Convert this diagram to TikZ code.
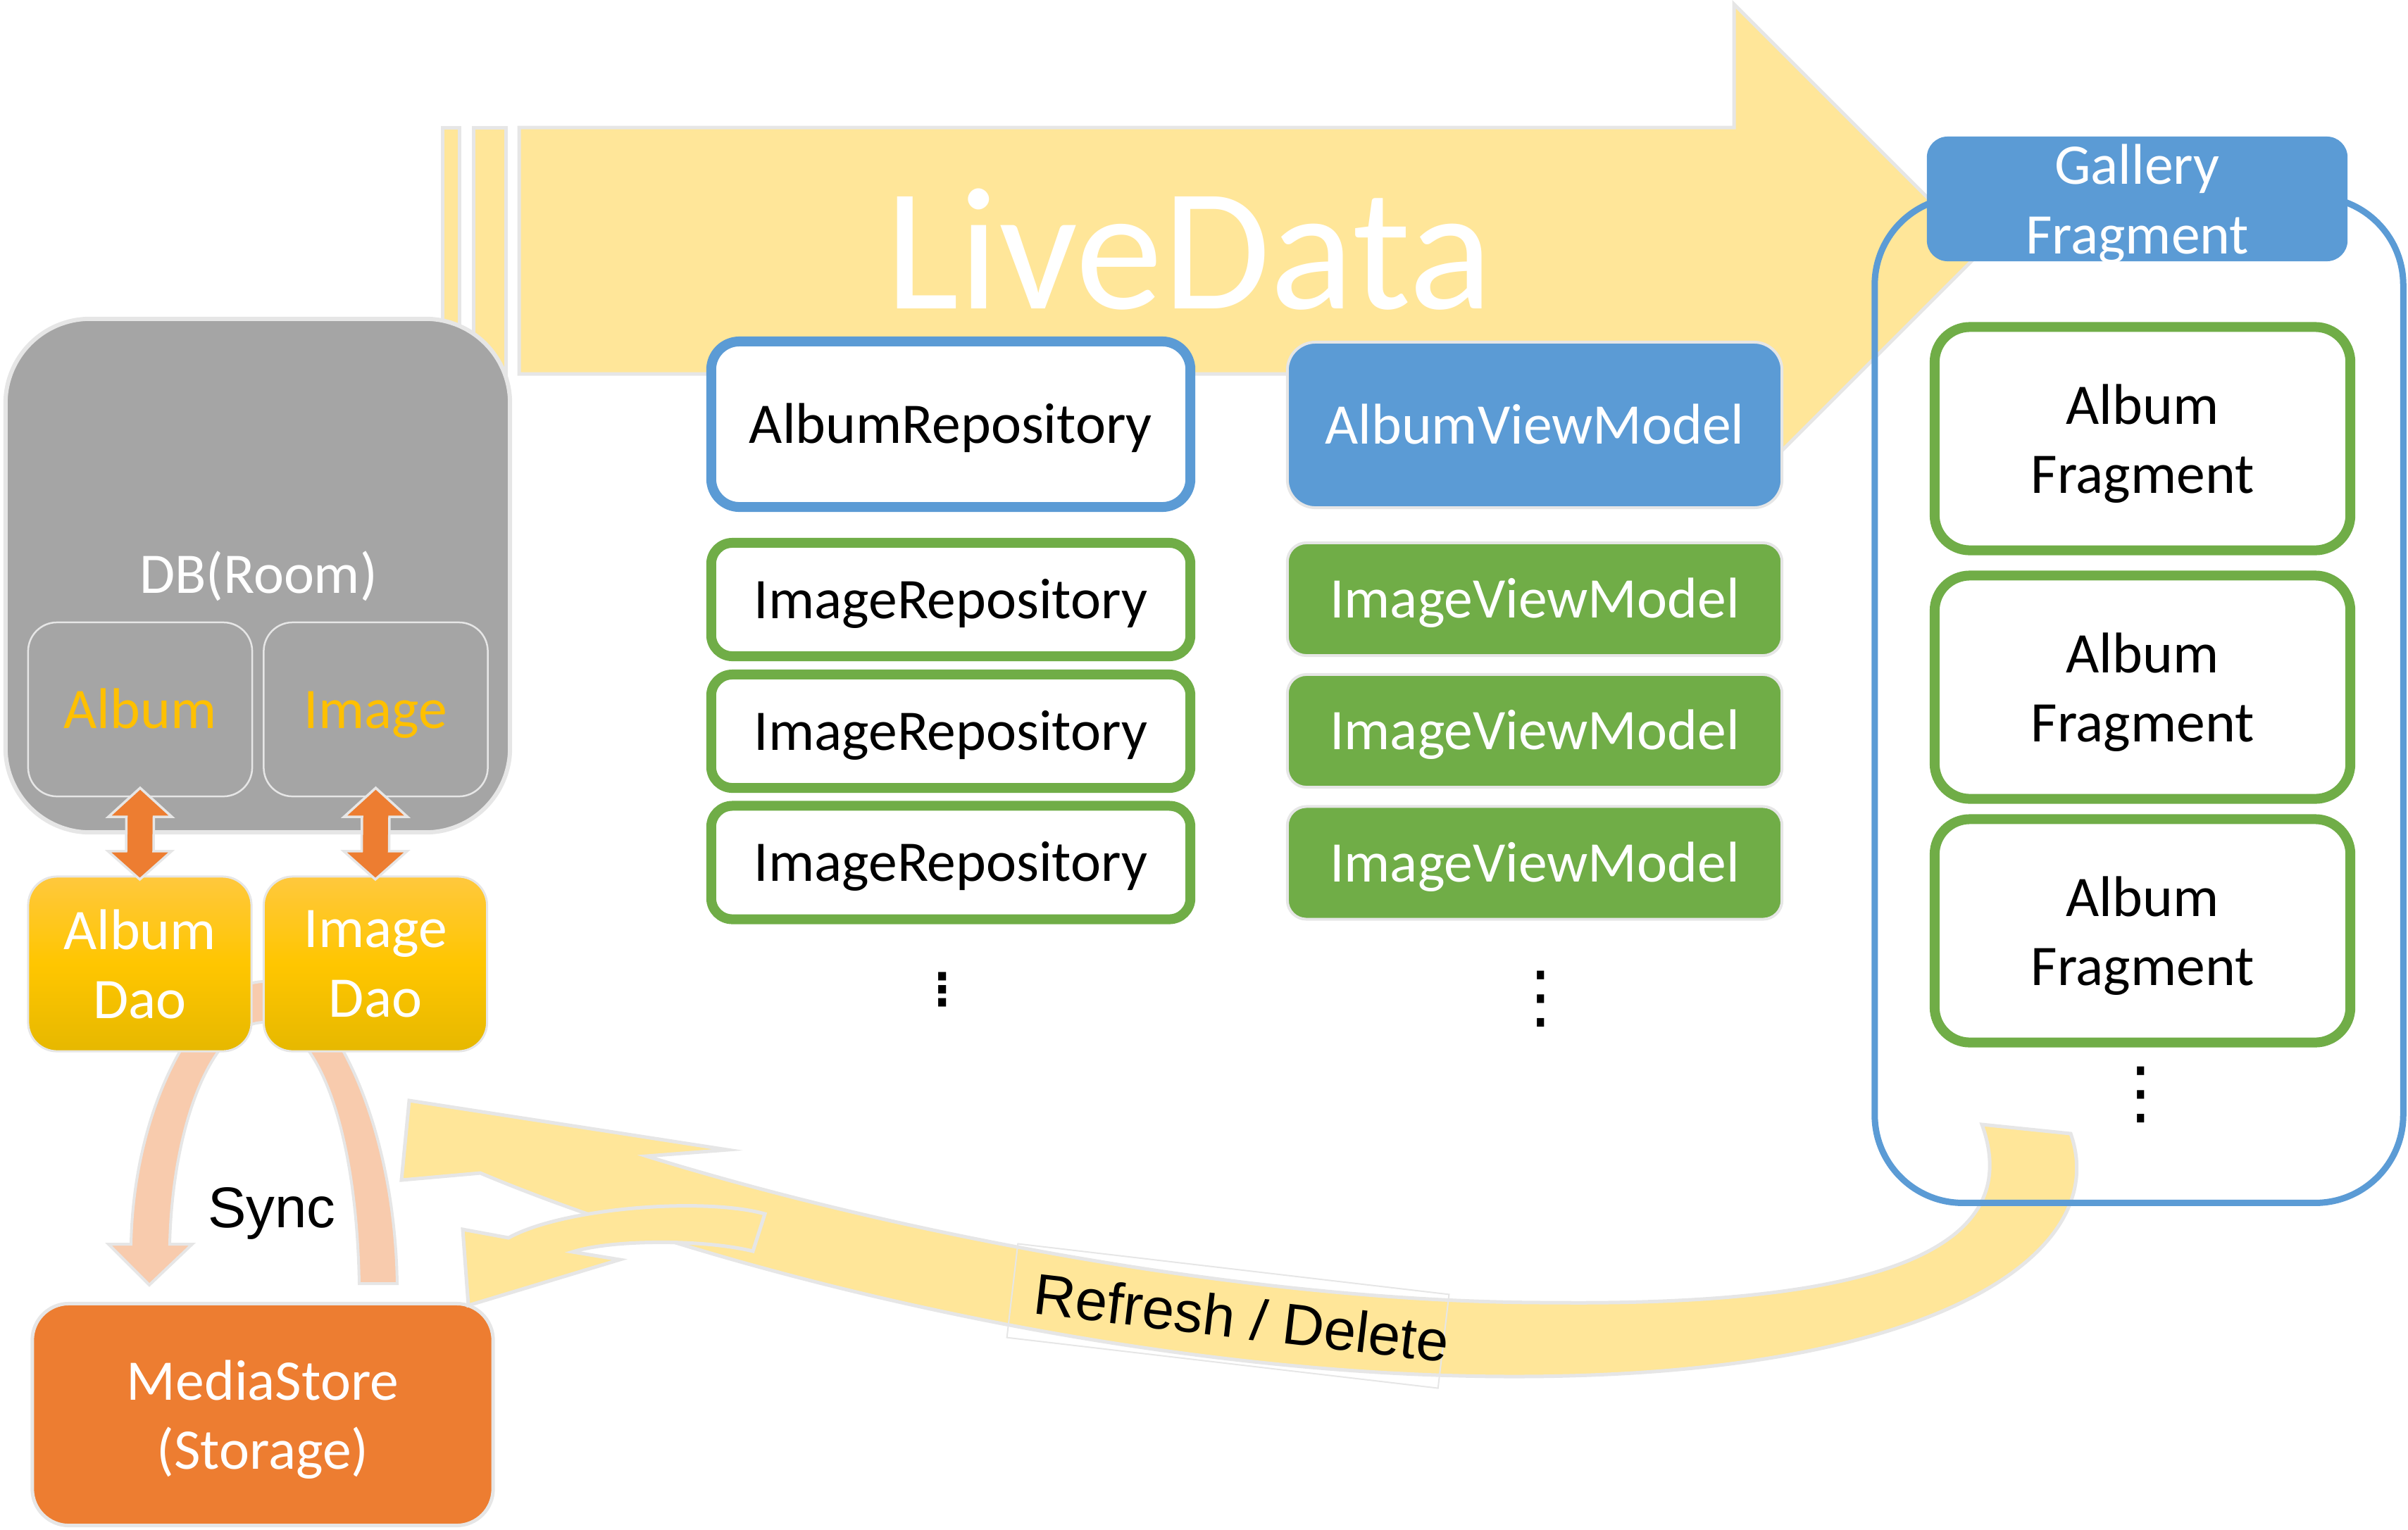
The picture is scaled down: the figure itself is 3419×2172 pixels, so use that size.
\documentclass[tikz,border=0pt]{standalone}
\usepackage{fontspec}
\setmainfont{Carlito}
\newfontfamily\arialfont{Liberation Sans}
\newfontfamily\symfont{DejaVu Sans}
\usetikzlibrary{calc}
\definecolor{lyellow}{HTML}{FFE699}
\definecolor{lgray}{HTML}{E6E6E6}
\definecolor{mblue}{HTML}{5B9BD5}
\definecolor{mgreen}{HTML}{70AD47}
\definecolor{morange}{HTML}{ED7D31}
\definecolor{mgray}{HTML}{A5A5A5}
\definecolor{mgold}{HTML}{FFC000}
\definecolor{mpeach}{HTML}{F8CBAD}
\definecolor{daotop}{HTML}{FFC83D}
\definecolor{daomid}{HTML}{FFC600}
\definecolor{daobot}{HTML}{E6B800}
\begin{document}
\begin{tikzpicture}[x=0.01cm,y=-0.01cm,
  every node/.style={font=\fontsize{23.2}{28}\selectfont, inner sep=0pt, outer sep=0pt},
  oneline/.style={text height=15.3pt, text depth=0pt},
  twoline/.style={align=center, text depth=0pt},
  lyarrow/.style={fill=lyellow, draw=lgray, line width=0.05cm},
  repo/.style={draw=#1, line width=0.14cm, fill=white, minimum width=6.8cm, oneline},
  vmbox/.style={fill=#1, draw=lgray, line width=0.04cm, minimum width=7.02cm, text=white, oneline},
  dbinner/.style={draw=lgray, line width=0.025cm, rounded corners=0.41cm, minimum width=3.18cm, minimum height=2.47cm, text=mgold, oneline},
  dao/.style={draw=lgray, line width=0.03cm, rounded corners=0.41cm, minimum width=3.17cm, minimum height=2.48cm, top color=daotop, bottom color=daobot, middle color=daomid, text=white, twoline},
  darrow/.style={fill=morange, draw=lgray, line width=0.035cm},
  frag/.style={draw=mgreen, line width=0.14cm, fill=white, rounded corners=0.5cm, minimum width=5.9cm, minimum height=3.17cm, twoline},
  dotsfont/.style={font=\symfont\fontsize{#1}{#1}\selectfont}
]
\useasboundingbox (0,0) rectangle (3419,2172);

% LiveData striped arrow
\draw[lyarrow] (628,181) rectangle (652,531);
\draw[lyarrow] (672,181) rectangle (718,531);
\draw[lyarrow] (737,181) -- (2462,181) -- (2462,6) -- (2813,357) -- (2462,708) -- (2462,531) -- (737,531) -- cycle;
\node[text=white, font=\fontsize{70.5}{80}\selectfont, anchor=base] (livedata) at (1688,438) {LiveData};

% Sync arch (behind Dao boxes)
\coordinate (synctip) at (212,1825);
\draw[fill=mpeach, draw=lgray, line width=0.04cm]
  (564,1823) .. controls (560,1580) and (460,1394) .. (375,1394)
  .. controls (290,1394) and (190,1560) .. (186,1767)
  -- (154,1767) -- (synctip) -- (273,1767) -- (241,1767)
  .. controls (245,1600) and (300,1452) .. (375,1452)
  .. controls (450,1452) and (506,1600) .. (510,1823) -- cycle;
\node[anchor=base, font=\arialfont\fontsize{23.2}{28}\selectfont] (sync) at (386,1743) {Sync};

% DB
\node[draw=lgray, line width=0.06cm, fill=mgray, rounded corners=1.2cm, minimum width=7.16cm, minimum height=7.29cm] (db) at (366,817.5) {};
\node[text=white, anchor=base] (dblabel) at (367,842) {DB(Room)};
\node[dbinner] (dbalbum) at (199,1007.5) {Album};
\node[dbinner] (dbimage) at (533.5,1007.5) {Image};

% Dao boxes
\node[dao] (albumdao) at (198.5,1369) {Album\\Dao};
\node[dao] (imagedao) at (533,1369) {Image\\Dao};

% double arrows
\coordinate (a1t) at ($(dbalbum.south)+(0,-12)$);
\coordinate (a1b) at ($(albumdao.north)+(0,4)$);
\coordinate (a2t) at ($(dbimage.south)+(0,-12)$);
\coordinate (a2b) at ($(imagedao.north)+(0,4)$);
\foreach \t/\b in {a1t/a1b,a2t/a2b}{
  \draw[darrow] (\t) -- ++(45,41) -- ++(-25.5,0) -- ($(\b)+(19.5,-40)$) -- ++(25.5,0) -- (\b)
    -- ++(-45,-40) -- ++(25.5,0) -- ($(\t)+(-19.5,41)$) -- ++(-25.5,0) -- cycle;
}

% MediaStore
\node[draw=lgray, line width=0.05cm, fill=morange, rounded corners=0.52cm, minimum width=6.54cm, minimum height=3.15cm, text=white, twoline] (mediastore) at (373,2009) {MediaStore\\(Storage)};

% Refresh / Delete arrows
\draw[lyarrow] (2814,1597) -- (2940,1610)
  .. controls (3000,1780) and (2750,1955) .. (2150,1955)
  .. controls (1600,1955) and (1000,1800) .. (682,1666)
  -- (570,1676) -- (581,1563) -- (1033,1633) -- (918,1642)
  .. controls (1300,1760) and (1800,1850) .. (2200,1850)
  .. controls (2650,1855) and (2880,1780) .. (2814,1597) -- cycle;
\draw[lyarrow] (1086,1724) .. controls (1000,1700) and (800,1715) .. (722,1758)
  -- (657,1746) -- (665,1854) -- (880,1789) -- (813,1778)
  .. controls (870,1760) and (1000,1760) .. (1069,1777) -- cycle;
\node[draw=lgray, line width=0.02cm, rotate=-6.7, minimum width=6.16cm, minimum height=1.34cm,
  font=\arialfont\fontsize{23.3}{28}\selectfont, text height=16.7pt, text depth=0pt] (refresh) at (1743.5,1869) {\hspace*{0.2cm}Refresh / Delete\hspace*{-0.2cm}};

% Repositories
\node[repo=mblue, minimum height=2.35cm, rounded corners=0.4cm] (albumrepo) at (1350,602.5) {AlbumRepository};
\node[repo=mgreen, minimum height=1.61cm, rounded corners=0.3cm] (imgrepo1) at (1350,851.5) {ImageRepository};
\node[repo=mgreen, minimum height=1.61cm, rounded corners=0.3cm] (imgrepo2) at (1350,1038.5) {ImageRepository};
\node[repo=mgreen, minimum height=1.61cm, rounded corners=0.3cm] (imgrepo3) at (1350,1225) {ImageRepository};
\node[font=\symfont\bfseries\fontsize{18}{18}\selectfont] (repodots) at (1338,1405) {⋮};

% ViewModels
\node[vmbox=mblue, minimum height=2.35cm, rounded corners=0.4cm] (albumvm) at (2179,603.5) {AlbumViewModel};
\node[vmbox=mgreen, minimum height=1.6cm, rounded corners=0.27cm] (imgvm1) at (2179,851) {ImageViewModel};
\node[vmbox=mgreen, minimum height=1.6cm, rounded corners=0.27cm] (imgvm2) at (2179,1038) {ImageViewModel};
\node[vmbox=mgreen, minimum height=1.6cm, rounded corners=0.27cm] (imgvm3) at (2179,1225.5) {ImageViewModel};
\node[dotsfont=28] (vmdots) at (2188,1419) {⋮};

% Gallery fragment
\node[draw=mblue, line width=0.09cm, rounded corners=1.25cm, minimum width=7.5cm, minimum height=14.28cm] (gallery) at (3037,994) {};
\node[fill=mblue, rounded corners=0.295cm, minimum width=5.97cm, minimum height=1.77cm, text=white, twoline] (galleryhead) at (3034.5,282.5) {Gallery\\Fragment};
\node[frag] (frag1) at (3042,623) {Album\\Fragment};
\node[frag] (frag2) at (3042,976) {Album\\Fragment};
\node[frag] (frag3) at (3042,1322) {Album\\Fragment};
\node[dotsfont=28] (fragdots) at (3040,1555) {⋮};
\end{tikzpicture}
\end{document}
